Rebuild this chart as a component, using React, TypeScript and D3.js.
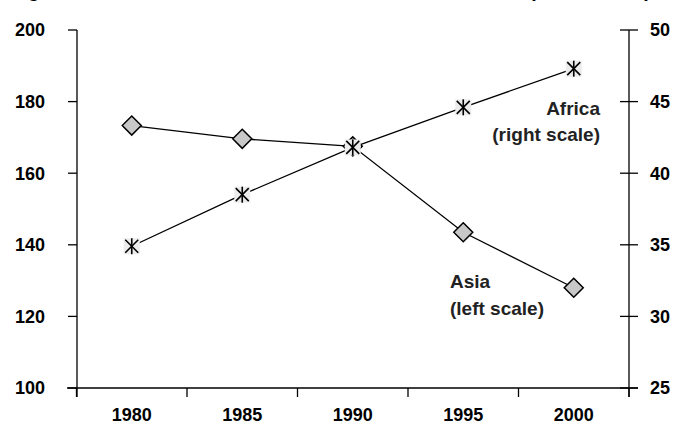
import React from "react";
import * as d3 from "d3";

const years = ["1980", "1985", "1990", "1995", "2000"];
const asia = [173.3, 169.6, 167.5, 143.5, 128.0];
const africa = [34.9, 38.5, 41.8, 44.6, 47.3];
const leftTicks = [100, 120, 140, 160, 180, 200];
const rightTicks = [25, 30, 35, 40, 45, 50];

const W = 674;
const H = 434;
const M = { left: 77, right: 629, top: 30, bottom: 388 };
const FONT = "'Liberation Sans', Arial, sans-serif";

export default function App() {
  const x = d3.scaleBand<string>().domain(years).range([M.left - 0.5, M.right]);
  const yL = d3.scaleLinear().domain([100, 200]).range([M.bottom, M.top]);
  const yR = d3.scaleLinear().domain([25, 50]).range([M.bottom, M.top]);
  const cx = (d: string) => (x(d) as number) + x.bandwidth() / 2;

  const asiaLine = d3
    .line<number>()
    .x((_, i) => cx(years[i]))
    .y((d) => yL(d))(asia) as string;
  const africaLine = d3
    .line<number>()
    .x((_, i) => cx(years[i]))
    .y((d) => yR(d))(africa) as string;

  const bounds = [...years.map((d) => x(d) as number), M.right];

  return (
    <svg
      width={W}
      height={H}
      style={{ position: "absolute", left: 0, top: 0, background: "#fff" }}
      fontFamily={FONT}
    >
      {/* cropped title (only its lowest edge is visible in the reference) */}
      <text x={10} y={-3} fontSize={20} fontWeight="bold" fill="#000">
        Figure
      </text>
      <text x={529} y={-3} fontSize={20} fontWeight="bold" fill="#000" textLength={122}>
        (1961 = 100)
      </text>

      {/* left axis */}
      <line x1={M.left} x2={M.left} y1={M.top} y2={M.bottom + 9} stroke="#000" strokeWidth={1.3} />
      {leftTicks.map((t) => (
        <g key={"l" + t}>
          <line x1={M.left - 9} x2={M.left} y1={yL(t)} y2={yL(t)} stroke="#000" strokeWidth={1.3} />
          <text x={45} y={yL(t)} dy="0.36em" textAnchor="end" fontSize={18} fontWeight="bold">
            {t}
          </text>
        </g>
      ))}

      {/* right axis */}
      <line x1={M.right} x2={M.right} y1={M.top} y2={M.bottom + 9} stroke="#000" strokeWidth={1.3} />
      {rightTicks.map((t) => (
        <g key={"r" + t}>
          <line x1={M.right - 9} x2={M.right + 9} y1={yR(t)} y2={yR(t)} stroke="#000" strokeWidth={1.3} />
          <text x={650} y={yR(t)} dy="0.36em" textAnchor="start" fontSize={18} fontWeight="bold">
            {t}
          </text>
        </g>
      ))}

      {/* x axis */}
      <line x1={M.left - 10} x2={M.right + 9} y1={M.bottom} y2={M.bottom} stroke="#000" strokeWidth={1.3} />
      {bounds.map((b, i) => (
        <line key={"xt" + i} x1={b} x2={b} y1={M.bottom} y2={M.bottom + 9} stroke="#000" strokeWidth={1.3} />
      ))}
      {years.map((yr) => (
        <text key={"xl" + yr} x={cx(yr)} y={421} textAnchor="middle" fontSize={18} fontWeight="bold">
          {yr}
        </text>
      ))}

      {/* Asia series */}
      <path d={asiaLine} fill="none" stroke="#000" strokeWidth={1.3} />
      {asia.map((v, i) => {
        const px = cx(years[i]);
        const py = yL(v);
        const r = 9.5;
        return (
          <path
            key={"a" + i}
            d={`M${px},${py - r}L${px + r},${py}L${px},${py + r}L${px - r},${py}Z`}
            fill="#c8c8c8"
            stroke="#000"
            strokeWidth={1.5}
          />
        );
      })}

      {/* Africa series */}
      <path d={africaLine} fill="none" stroke="#000" strokeWidth={1.3} />
      {africa.map((v, i) => {
        const px = cx(years[i]);
        const py = yR(v);
        const s = 6.5;
        return (
          <g key={"f" + i}>
            <rect x={px - 8} y={py - 8} width={16} height={16} fill="#ececec" />
            <line x1={px - s} x2={px + s} y1={py - s} y2={py + s} stroke="#000" strokeWidth={1.6} />
            <line x1={px - s} x2={px + s} y1={py + s} y2={py - s} stroke="#000" strokeWidth={1.6} />
            <line x1={px} x2={px} y1={py - 8} y2={py + 8} stroke="#000" strokeWidth={1.6} />
          </g>
        );
      })}

      {/* annotations */}
      <text x={600} y={115} textAnchor="end" fontSize={19} fontWeight="bold" fill="#222">
        Africa
      </text>
      <text x={600} y={141} textAnchor="end" fontSize={19} fontWeight="bold" fill="#222">
        (right scale)
      </text>
      <text x={450} y={288} textAnchor="start" fontSize={19} fontWeight="bold" fill="#222">
        Asia
      </text>
      <text x={450} y={315} textAnchor="start" fontSize={19} fontWeight="bold" fill="#222">
        (left scale)
      </text>
    </svg>
  );
}
